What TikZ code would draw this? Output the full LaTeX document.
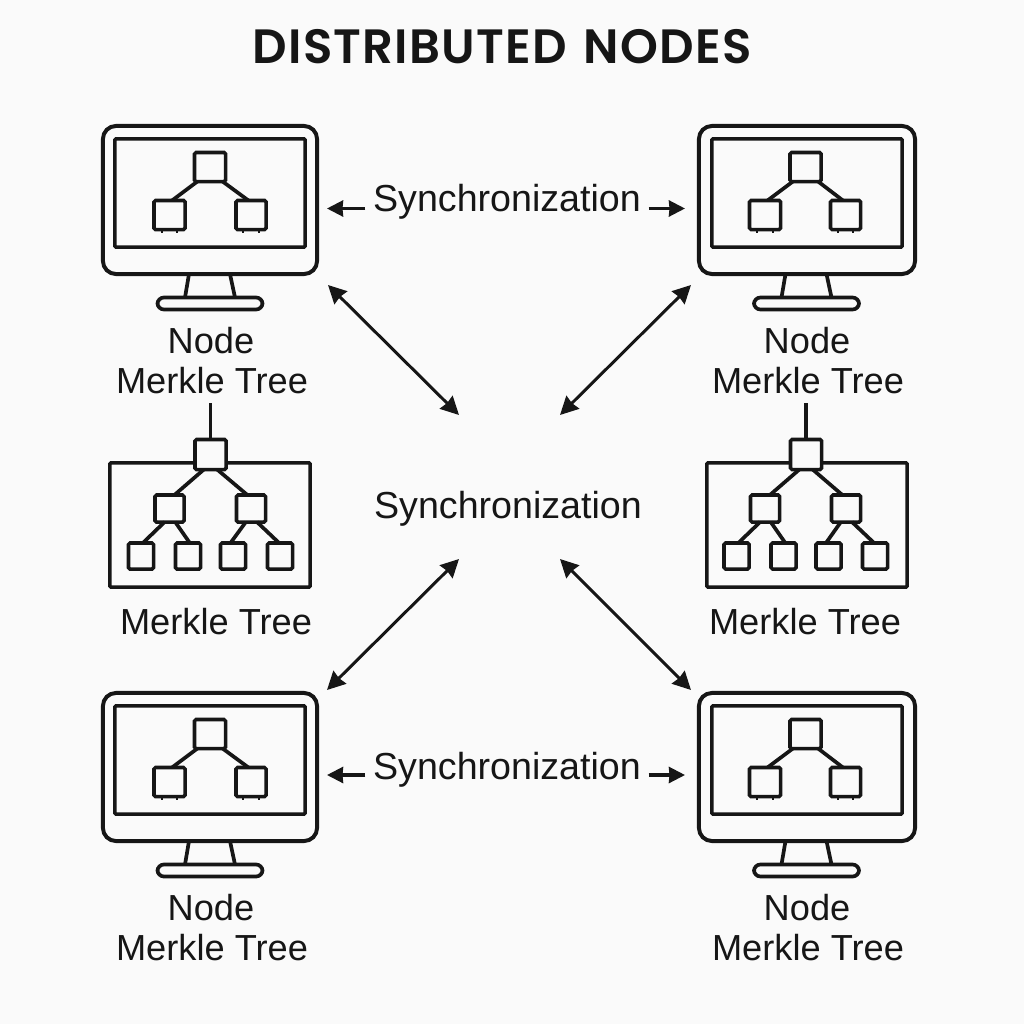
\documentclass[tikz,border=0pt]{standalone}
\usepackage{fontspec}
\setmainfont{Liberation Sans}
\newfontfamily\ttlfont[LetterSpace=2.6,WordSpace=1.3]{Poppins SemiBold}
\usetikzlibrary{arrows.meta,calc}
\definecolor{bgc}{HTML}{FAFAFA}
\definecolor{ink}{HTML}{161616}
\tikzset{
  shell/.style={draw=ink,line width=1.12pt,rounded corners=0.13cm,minimum width=#1,minimum height=1.48cm,inner sep=0,outer sep=0},
  screen/.style={draw=ink,line width=1.0pt,rounded corners=0.01cm,minimum width=1.90cm,minimum height=1.08cm,inner sep=0,outer sep=0},
  monbox/.style={draw=ink,line width=1.0pt,fill=bgc,rounded corners=0.015cm,minimum width=#1,inner sep=0,outer sep=0},
  base/.style={draw=ink,line width=1.05pt,rounded corners=0.065cm,minimum width=1.05cm,minimum height=0.12cm,inner sep=0,outer sep=0},
  panel/.style={draw=ink,line width=1.0pt,rounded corners=0.01cm,minimum width=2.00cm,minimum height=1.24cm,inner sep=0,outer sep=0},
  link/.style={draw=ink,line width=1.05pt},
  tick/.style={draw=ink,line width=0.6pt},
  lbl/.style={text=ink,anchor=base,inner sep=0,font=\fontsize{10.3}{12}\selectfont},
  synclbl/.style={text=ink,anchor=base,inner xsep=0.07cm,inner ysep=0,font=\fontsize{10.7}{12}\selectfont},
  ttl/.style={text=ink,anchor=base,inner sep=0,font=\fontsize{13.7}{16}\ttlfont},
  dbl/.style={draw=ink,line width=0.85pt,{Stealth[length=0.18cm,width=0.18cm,inset=0.012cm]}-{Stealth[length=0.18cm,width=0.18cm,inset=0.012cm]}},
  sgl/.style={draw=ink,line width=0.9pt,-{Stealth[length=0.16cm,width=0.16cm,inset=0.005cm]}},
}
% #1 name, #2 dx, #3 dy, #4 shell x, #5 shell width, #6 root x, #7 left x, #8 right x, #9 base x
\newcommand{\monitorunit}[9]{%
\begin{scope}[shift={(#2,#3)}]
  \node[shell=#5] (#1s) at (#4,200) {};
  \node[screen] (#1i) at (#4,193) {};
  \node[monbox=0.31cm,minimum height=0.29cm] (#1r) at (#6,167) {};
  \node[monbox=0.31cm,minimum height=0.29cm] (#1a) at (#7,215) {};
  \node[monbox=0.30cm,minimum height=0.29cm] (#1b) at (#8,215) {};
  \draw[link] (#1r.229) -- (#1a.80);
  \draw[link] (#1r.-49) -- (#1b.100);
  \draw[tick] (#1a.-118) -- ++(0,3);
  \draw[tick] (#1a.-62) -- ++(0,3);
  \draw[tick] (#1b.-118) -- ++(0,3);
  \draw[tick] (#1b.-62) -- ++(0,3);
  \node[base] (#1p) at (#9,303.5) {};
  \draw[link] ($(#1s.south)+(#9-#4-21,0)$) -- ($(#1p.north)+(-25,0)$);
  \draw[link] ($(#1s.south)+(#9-#4+20,0)$) -- ($(#1p.north)+(25,0)$);
\end{scope}}
% #1 name, #2 dx, #3 panel x, #4 root x, #5 left x, #6 right x, #7 last leaf x
\newcommand{\treeunit}[7]{%
\begin{scope}[shift={(#2,0)}]
  \node[panel] (#1f) at (#3,525) {};
  \coordinate (#1t) at (#4,403);
  \node[monbox=0.31cm,minimum height=0.30cm] (#1r) at (#4,454.5) {};
  \draw[link] (#1t) -- (#1r.north);
  \node[monbox=0.29cm,minimum height=0.27cm] (#1a) at (#5,508.5) {};
  \node[monbox=0.29cm,minimum height=0.27cm] (#1b) at (#6,508.5) {};
  \node[monbox=0.25cm,minimum height=0.26cm] (#1c) at (141,556) {};
  \node[monbox=0.25cm,minimum height=0.26cm] (#1d) at (188,556) {};
  \node[monbox=0.25cm,minimum height=0.26cm] (#1e) at (233,556) {};
  \node[monbox=0.25cm,minimum height=0.26cm] (#1g) at (#7,556) {};
  \draw[link] (#1r.246) -- (#1a.70);
  \draw[link] (#1r.-66) -- (#1b.105);
  \draw[link] (#1a.250) -- (#1c.82);
  \draw[link] (#1a.-67) -- (#1d.82);
  \draw[link] (#1b.249) -- (#1e.101);
  \draw[link] (#1b.-66) -- (#1g.94);
\end{scope}}
\begin{document}
\begin{tikzpicture}[x=0.01cm,y=-0.01cm]
\useasboundingbox (0,0) rectangle (1024,1024);
\fill[bgc] (0,0) rectangle (1024,1024);
\node[ttl] (title) at (502,64) {DISTRIBUTED NODES};
\monitorunit{ma}{0}{0}{210}{2.14cm}{210}{169.5}{251}{210}
\monitorunit{mb}{596}{0}{211}{2.16cm}{209.5}{169}{249.5}{210.5}
\monitorunit{mc}{0}{567}{210}{2.14cm}{210}{169.5}{251}{210}
\monitorunit{md}{596}{567}{211}{2.16cm}{209.5}{169}{249.5}{210.5}
\treeunit{ta}{0}{210}{210.5}{169.5}{251}{280}
\treeunit{tb}{595.5}{211.5}{210.5}{169.5}{250.5}{279.5}
\node[lbl] (na1) at (211,353) {Node};
\node[lbl] (na2) at (212,393) {Merkle Tree};
\node[lbl] (nb1) at (807,353) {Node};
\node[lbl] (nb2) at (808,393) {Merkle Tree};
\node[lbl] (nc1) at (211,920) {Node};
\node[lbl] (nc2) at (212,960) {Merkle Tree};
\node[lbl] (nd1) at (807,920) {Node};
\node[lbl] (nd2) at (808,960) {Merkle Tree};
\node[lbl] (tl1) at (216,634) {Merkle Tree};
\node[lbl] (tl2) at (805,634) {Merkle Tree};
\node[synclbl] (s1) at (507,211) {Synchronization};
\node[synclbl] (s2) at (508,518) {Synchronization};
\node[synclbl] (s3) at (507,779) {Synchronization};
\coordinate (h1) at (327,208.5);
\coordinate (h2) at (685,208.5);
\coordinate (h3) at (327,775);
\coordinate (h4) at (685,775);
\draw[sgl] (h1 -| s1.west) -- (h1);
\draw[sgl] (h2 -| s1.east) -- (h2);
\draw[sgl] (h3 -| s3.west) -- (h3);
\draw[sgl] (h4 -| s3.east) -- (h4);
\coordinate (d1a) at (328,285);
\coordinate (d1b) at (459,415);
\coordinate (d2a) at (691,285);
\coordinate (d2b) at (560,415);
\coordinate (d3a) at (327,690);
\coordinate (d3b) at (459,559);
\coordinate (d4a) at (691,690);
\coordinate (d4b) at (560,559);
\draw[dbl] (d1a) -- (d1b);
\draw[dbl] (d2a) -- (d2b);
\draw[dbl] (d3a) -- (d3b);
\draw[dbl] (d4a) -- (d4b);
\end{tikzpicture}
\end{document}
